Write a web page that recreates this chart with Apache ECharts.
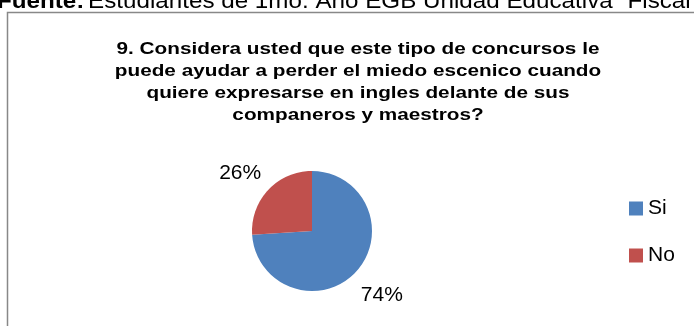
<!DOCTYPE html>
<html>
<head>
<meta charset="utf-8">
<script src="https://cdn.jsdelivr.net/npm/echarts@6/dist/echarts.min.js"></script>
<style>
html,body{margin:0;padding:0;background:#fff;}
#chart{width:694px;height:326px;}
</style>
</head>
<body>
<div id="chart"></div>
<script>
var categories = ['Si', 'No'];
var values = [74, 26];
var colors = ['#4F81BD', '#C0504D'];
var titleText = '9. Considera usted que este tipo de concursos le\npuede ayudar a perder el miedo escenico cuando\nquiere expresarse en ingles delante de sus\ncompaneros y maestros?';
var sourceText = 'Fuente: Estudiantes de 1mo. Año EGB Unidad Educativa “Fiscal';

var chart = echarts.init(document.getElementById('chart'));
var data = categories.map(function (c, i) {
  return { name: c, value: values[i], itemStyle: { color: colors[i] } };
});
chart.setOption({
  animation: false,
  legend: {
    orient: 'vertical',
    left: 629,
    top: 198,
    padding: 0,
    itemWidth: 14,
    itemHeight: 14,
    itemGap: 26,
    icon: 'rect',
    itemStyle: { borderWidth: 0 },
    textStyle: { fontFamily: 'Liberation Sans', fontSize: 21, color: '#000', padding: [0, 0, 0, 0] },
    data: categories
  },
  graphic: [
    {
      type: 'rect',
      shape: { x: 7.5, y: 12.5, width: 720, height: 340 },
      style: { fill: 'none', stroke: '#888', lineWidth: 1.5 }
    },
    {
      type: 'text',
      x: -3,
      y: 13,
      scaleX: 1.1,
      style: {
        rich: {
          b: { fontFamily: 'Liberation Sans', fontSize: 22, fontWeight: 'bold', fill: '#000' },
          n: { fontFamily: 'Liberation Sans', fontSize: 22, fill: '#000' }
        },
        verticalAlign: 'bottom',
        text: '{b|Fuente:} {n|' + sourceText.replace('Fuente: ', '') + '}'
      }
    },
    {
      type: 'text',
      x: 358,
      y: 38,
      scaleX: 1.22,
      style: {
        text: titleText,
        align: 'center',
        verticalAlign: 'top',
        fontFamily: 'Liberation Sans',
        fontWeight: 'bold',
        fontSize: 17,
        lineHeight: 22,
        fill: '#000'
      }
    }
  ],
  series: [{
    type: 'pie',
    center: [312, 231],
    radius: 60,
    startAngle: 90,
    clockwise: true,
    data: data,
    label: {
      show: true,
      position: 'outside',
      formatter: '{d}%',
      fontFamily: 'Liberation Sans',
      fontSize: 21,
      color: '#000',
      distanceToLabelLine: 0
    },
    labelLine: { show: false, length: 33, length2: 0 },
    labelLayout: function (p) {
      return p.dataIndex === 1 ? { align: 'center', dx: -4, dy: 6 } : { align: 'center', dx: 2, dy: 1 };
    },
    emphasis: { disabled: true }
  }]
});
</script>
</body>
</html>
